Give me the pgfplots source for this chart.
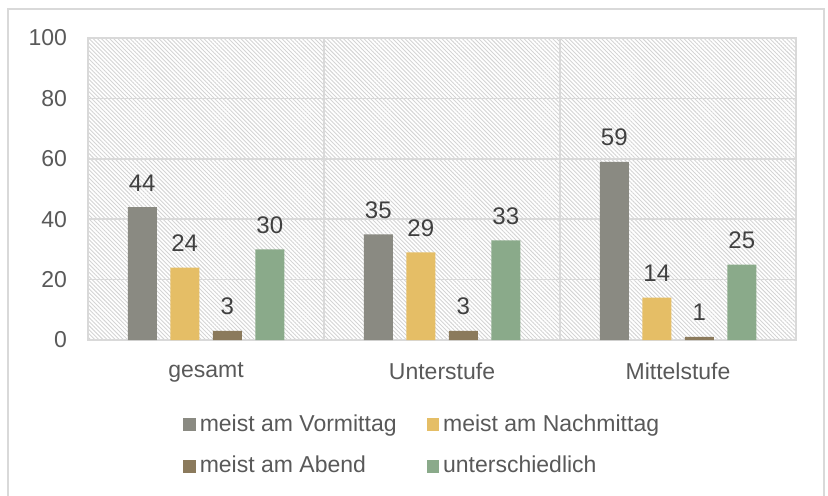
\documentclass[border=0pt]{standalone}
\usepackage{fontspec}
\setmainfont{Liberation Sans}
\usepackage{pgfplots}
\pgfplotsset{compat=1.18}
\usetikzlibrary{patterns.meta}
\definecolor{gridc}{HTML}{D9D9D9}
\definecolor{hatchc}{HTML}{D4D4D4}
\definecolor{txtc}{HTML}{595959}
\definecolor{lblc}{HTML}{404040}
\definecolor{cgray}{HTML}{8A8A82}
\definecolor{cyellow}{HTML}{E5BE66}
\definecolor{cbrown}{HTML}{8B7A5C}
\definecolor{cgreen}{HTML}{8AAA8A}
\begin{document}
\begin{tikzpicture}[x=1pt,y=1pt]
\useasboundingbox (0,0) rectangle (414,-247.5);
\draw[color=gridc, line width=0.8pt] (4,-250)--(4,-4.5)--(412,-4.5)--(412,-250);
\begin{axis}[
  at={(44pt,-19pt)}, anchor=north west,
  width=354pt, height=151pt, scale only axis,
  xmin=-0.5, xmax=2.5, ymin=0, ymax=100,
  axis background/.style={pattern={Lines[angle=-45, distance=1.45pt, line width=0.45pt]}, pattern color=hatchc},
  axis line style={draw=gridc, line width=0.8pt},
  ytick={0,20,40,60,80,100},
  xtick={0,1,2},
  xticklabels={gesamt, Unterstufe, Mittelstufe},
  major tick length=0pt,
  ymajorgrids, grid style={draw=gridc, line width=0.8pt},
  extra x ticks={0.5,1.5}, extra x tick labels={},
  extra x tick style={xmajorgrids=true, grid style={draw=gridc, line width=0.8pt}},
  /pgf/number format/assume math mode=true,
  tick label style={font=\fontsize{11.5}{13.8}\selectfont, text=txtc},
  yticklabel style={xshift=-7pt},
  xticklabel style={yshift=-8pt},
  ybar=6.75pt, bar width=14.5pt,
  nodes near coords,
  every node near coord/.append style={font=\fontsize{12}{14.4}\selectfont, text=lblc, yshift=4.5pt},
  legend columns=2,
  legend cell align=left,
  legend style={at={(axis description cs:0.134,-0.232)}, anchor=north west, draw=none, fill=none, inner sep=0pt,
    font=\fontsize{11.5}{13.8}\selectfont, text=txtc,
    /tikz/every even column/.append style={column sep=13pt},
    row sep=7pt},
  legend image code/.code={\fill[#1,draw=none] (0pt,-3.3pt) rectangle (6.25pt,2.95pt);},
]
\addplot[fill=cgray, draw=none] coordinates {(0,44) (1,35) (2,59)};
\addplot[fill=cyellow, draw=none] coordinates {(0,24) (1,29) (2,14)};
\addplot[fill=cbrown, draw=none] coordinates {(0,3) (1,3) (2,1)};
\addplot[fill=cgreen, draw=none] coordinates {(0,30) (1,33) (2,25)};
\legend{meist am Vormittag, meist am Nachmittag, meist am Abend, unterschiedlich}
\end{axis}
\end{tikzpicture}
\end{document}
